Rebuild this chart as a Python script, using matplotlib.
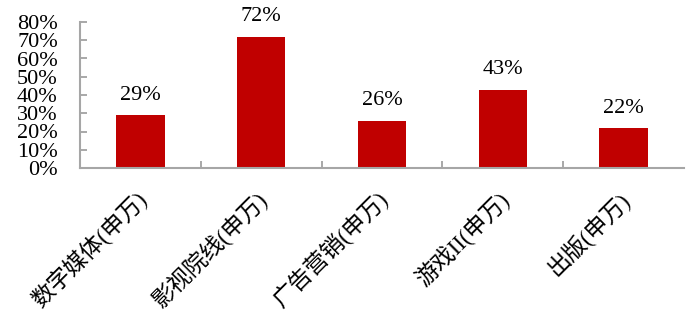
import matplotlib
matplotlib.use("Agg")
import matplotlib.pyplot as plt
import numpy as np

categories = ["数字媒体(申万)", "影视院线(申万)", "广告营销(申万)", "游戏II(申万)", "出版(申万)"]
values = [29, 72, 26, 43, 22]
yticks = [0, 10, 20, 30, 40, 50, 60, 70, 80]
ytick_labels = [f"{v}%" for v in yticks]

plt.rcParams['font.family'] = ['Liberation Serif', 'Noto Sans CJK SC']

fig = plt.figure(figsize=(6.92, 3.2), dpi=100)
ax = fig.add_axes([80/692, 1-168/320, 604/692, 146/320])

x = np.arange(len(categories))
ax.bar(x, values, width=0.4, color="#C00000", zorder=2)
for xi, v in zip(x, values):
    ax.annotate(f"{v}%", (xi, v), xytext=(0, 11), textcoords="offset points",
                ha="center", va="baseline", fontsize=16, color="#000000")

ax.set_xlim(-0.5, len(categories) - 0.5)
ax.set_ylim(0, 80)
ax.set_yticks(yticks)
ax.set_yticklabels(ytick_labels, fontsize=16)
ax.tick_params(axis='y', direction='in', length=5, width=1.2, color="#999999", pad=16)

ax.set_xticks(x)
ax.set_xticklabels([])
ax.tick_params(axis='x', which='major', length=0)
ax.set_xticks(np.arange(0.5, len(categories) - 1, 1.0), minor=True)
ax.tick_params(axis='x', which='minor', direction='in', length=5, width=1.2, color="#999999")

for xi, c in zip(x, categories):
    ax.annotate(c, (xi, 0), xytext=(2, -20), textcoords="offset points",
                rotation=45, ha="right", va="center", rotation_mode="anchor",
                fontsize=16.5, fontweight="light",
                family=['Liberation Serif', 'Noto Sans CJK SC'])

for s in ["top", "right"]:
    ax.spines[s].set_visible(False)
for s in ["left", "bottom"]:
    ax.spines[s].set_color("#a6a6a6")
    ax.spines[s].set_linewidth(1.5)

fig.savefig("out.png", dpi=100)
